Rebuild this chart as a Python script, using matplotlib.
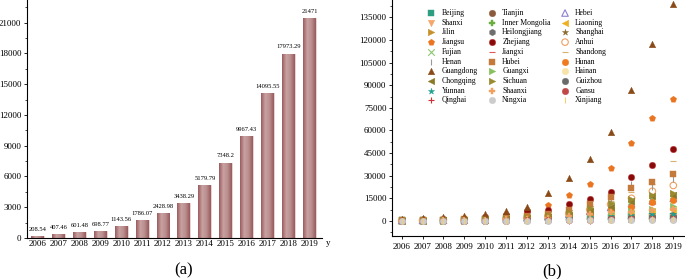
import matplotlib
matplotlib.use("Agg")
import matplotlib.pyplot as plt
import numpy as np
from matplotlib.ticker import MultipleLocator
from matplotlib.colors import LinearSegmentedColormap

plt.rcParams['font.family'] = ['Liberation Serif', 'DejaVu Serif']

years = [2006, 2007, 2008, 2009, 2010, 2011, 2012, 2013, 2014, 2015, 2016, 2017, 2018, 2019]
total_values = [208.54, 407.46, 601.48, 698.77, 1143.56, 1786.07, 2428.98, 3438.29,
                5179.79, 7348.2, 9967.43, 14095.55, 17973.29, 21471]
total_labels = ["208.54", "407.46", "601.48", "698.77", "1143.56", "1786.07", "2428.98",
                "3438.29", "5179.79", "7348.2", "9967.43", "14095.55", "17973.29", "21471"]

provinces = ["Beijing", "Tianjin", "Hebei", "Shanxi", "Inner Mongolia", "Liaoning", "Jilin",
             "Heilongjiang", "Shanghai", "Jiangsu", "Zhejiang", "Anhui", "Fujian", "Jiangxi",
             "Shandong", "Henan", "Hubei", "Hunan", "Guangdong", "Guangxi", "Hainan",
             "Chongqing", "Sichuan", "Guizhou", "Yunnan", "Shaanxi", "Gansu", "Qinghai",
             "Ningxia", "Xinjiang"]

beijing = [400, 550, 700, 900, 1100, 1400, 1700, 2000, 2300, 2500, 2800, 3000, 3100, 3200]
tianjin = [200, 300, 400, 550, 750, 1000, 1400, 1800, 2300, 2800, 3200, 3500, 3800, 4000]
hebei = [200, 300, 450, 600, 900, 1300, 2000, 3000, 4500, 6500, 9000, 11500, 13500, 15000]
shanxi = [100, 150, 220, 300, 400, 550, 750, 1000, 1300, 1600, 1900, 2200, 2500, 2800]
inner_mongolia = [60, 90, 130, 180, 250, 350, 480, 650, 850, 1050, 1250, 1400, 1500, 1600]
liaoning = [300, 450, 600, 800, 1100, 1500, 2000, 2600, 3200, 3800, 4500, 5500, 6500, 7500]
jilin = [80, 120, 180, 250, 330, 450, 600, 800, 1000, 1200, 1400, 1600, 1800, 2000]
heilongjiang = [100, 150, 200, 300, 400, 550, 750, 1000, 1300, 1600, 1900, 2100, 2300, 2500]
shanghai = [400, 600, 800, 1100, 1500, 2100, 3000, 4000, 5500, 7500, 10000, 12500, 14500, 16000]
jiangsu = [700, 1000, 1400, 1900, 2800, 4000, 6000, 10400, 17100, 24800, 34800, 51400, 68000, 81000]
zhejiang = [500, 800, 1200, 1600, 2400, 4000, 6500, 7000, 11000, 14300, 19200, 28800, 37300, 47400]
anhui = [200, 300, 500, 700, 1000, 1500, 2200, 3300, 5000, 7500, 11000, 15000, 19700, 23500]
fujian = [300, 450, 650, 850, 1200, 1800, 2700, 3800, 5500, 8000, 10500, 13000, 15500, 17000]
jiangxi = [100, 150, 250, 350, 500, 800, 1200, 1800, 2800, 4200, 6500, 9000, 11500, 14000]
shandong = [400, 600, 900, 1200, 1700, 2500, 3500, 5000, 7000, 9500, 13500, 19000, 24500, 39600]
henan = [250, 400, 600, 800, 1100, 1600, 2400, 3500, 5500, 8500, 13000, 24800, 22500, 27500]
hubei = [300, 500, 700, 1000, 1400, 2000, 3000, 4500, 7000, 11000, 16000, 21700, 25800, 31300]
hunan = [200, 300, 450, 600, 900, 1300, 1900, 2900, 4200, 6000, 8200, 9300, 12500, 13700]
guangdong = [1300, 1900, 2600, 3200, 4500, 6300, 9000, 18200, 28500, 41000, 59000, 86700, 117300, 143800]
guangxi = [100, 150, 200, 300, 450, 650, 1000, 1500, 2300, 3500, 5000, 6500, 7600, 9800]
hainan = [20, 30, 50, 80, 120, 180, 260, 360, 500, 650, 800, 950, 1100, 1300]
chongqing = [150, 250, 400, 550, 800, 1200, 1800, 2700, 4200, 6500, 9500, 13500, 16500, 17500]
sichuan = [300, 450, 650, 900, 1300, 1900, 2800, 4000, 6000, 8800, 12000, 14500, 17500, 18500]
guizhou = [40, 60, 100, 150, 220, 330, 500, 750, 1100, 1500, 1900, 2300, 2600, 2900]
yunnan = [80, 120, 180, 250, 350, 500, 800, 1200, 1800, 2500, 3200, 4000, 4900, 4900]
shaanxi = [150, 250, 350, 500, 700, 1000, 1500, 2200, 3200, 4500, 6000, 6000, 7000, 7800]
gansu = [30, 50, 80, 110, 160, 230, 330, 450, 600, 800, 1000, 1200, 1400, 1600]
qinghai = [10, 20, 30, 45, 65, 90, 120, 160, 210, 260, 310, 360, 410, 460]
ningxia = [15, 25, 40, 60, 90, 130, 180, 240, 310, 380, 450, 520, 580, 650]
xinjiang = [40, 60, 90, 130, 180, 250, 350, 480, 630, 780, 900, 1000, 1100, 1200]

series = [beijing, tianjin, hebei, shanxi, inner_mongolia, liaoning, jilin, heilongjiang,
          shanghai, jiangsu, zhejiang, anhui, fujian, jiangxi, shandong, henan, hubei, hunan,
          guangdong, guangxi, hainan, chongqing, sichuan, guizhou, yunnan, shaanxi, gansu,
          qinghai, ningxia, xinjiang]

# (marker, facecolor, edgecolor)
styles = [
    ('s', '#2e9e80', '#2e9e80'),   # Beijing
    ('o', '#8a5a3a', '#8a5a3a'),   # Tianjin
    ('^', 'none', '#8c80d0'),      # Hebei
    ('v', '#f5a66a', '#f5a66a'),   # Shanxi
    ('P', '#6aae3f', '#6aae3f'),   # Inner Mongolia
    ('<', '#f0b020', '#f0b020'),   # Liaoning
    ('>', '#c8902c', '#c8902c'),   # Jilin
    ('h', '#6e6e6e', '#6e6e6e'),   # Heilongjiang
    ('*', '#8a6a30', '#8a6a30'),   # Shanghai
    ('p', '#ea7420', '#ea7420'),   # Jiangsu
    ('o', '#8a0a0a', '#c04040'),   # Zhejiang
    ('o', 'none', '#f0a060'),      # Anhui
    ('x', '#8cc870', '#8cc870'),   # Fujian
    ('_', '#e05858', '#e05858'),   # Jiangxi
    ('_', '#d8b070', '#d8b070'),   # Shandong
    ('|', '#999999', '#999999'),   # Henan
    ('s', '#c47a3a', '#c47a3a'),   # Hubei
    ('o', '#f07a20', '#f07a20'),   # Hunan
    ('^', '#8a4a18', '#8a4a18'),   # Guangdong
    ('>', '#86c060', '#86c060'),   # Guangxi
    ('o', '#f8e4a8', '#f8e4a8'),   # Hainan
    ('<', '#8a7a28', '#8a7a28'),   # Chongqing
    ('>', '#9a8a30', '#9a8a30'),   # Sichuan
    ('o', '#6a6a6a', '#6a6a6a'),   # Guizhou
    ('*', '#20a090', '#20a090'),   # Yunnan
    ('P', '#f0a060', '#f0a060'),   # Shaanxi
    ('o', '#c04848', '#c04848'),   # Gansu
    ('+', '#d03030', '#d03030'),   # Qinghai
    ('o', '#cccccc', '#cccccc'),   # Ningxia
    ('|', '#f0d070', '#f0d070'),   # Xinjiang
]

fig = plt.figure(figsize=(6.85, 2.79), dpi=100)

# ---------------- (a) bar chart ----------------
axa = fig.add_axes([27 / 685, 1 - 238 / 279, (322 - 27) / 685, 238 / 279])
bars = axa.bar(years, total_values, width=0.62, color='#b48282',
               edgecolor='#ecd6d6', linewidth=0.6, zorder=2)
cmap = LinearSegmentedColormap.from_list('bargrad', ['#9a5c5e', '#c9a2a2', '#b98e8e', '#985a5c'])
grad = np.linspace(0, 1, 64).reshape(1, -1)
for b in bars:
    x0, w, h = b.get_x(), b.get_width(), b.get_height()
    im = axa.imshow(grad, cmap=cmap, aspect='auto', extent=(x0, x0 + w, 0, h), zorder=2.5)
    im.set_clip_path(b)
for yr, v, lab in zip(years, total_values, total_labels):
    axa.annotate(lab, (yr, v), xytext=(0, 3), textcoords='offset points',
                 ha='center', va='bottom', fontsize=4.7)
axa.set_xlim(2005.5, 2019.6)
axa.set_ylim(0, 23200)
axa.set_xticks(years)
axa.set_yticks(np.arange(0, 21001, 3000))
axa.yaxis.set_minor_locator(MultipleLocator(1500))
axa.spines['top'].set_visible(False)
axa.spines['right'].set_visible(False)
axa.tick_params(axis='both', labelsize=6.5, direction='out', length=2.5, width=0.6, pad=1.5)
axa.tick_params(axis='y', which='minor', length=1.5, width=0.5)
axa.tick_params(axis='x', length=0)
for s in axa.spines.values():
    s.set_linewidth(0.8)
fig.text(328 / 685, 1 - 243 / 279, 'y', fontsize=6.5, ha='center', va='center')
fig.text(184 / 685, 1 - 270 / 279, '(a)', fontsize=12, ha='center', va='center')

# ---------------- (b) scatter chart ----------------
axb = fig.add_axes([392 / 685, 1 - 236 / 279, (685 - 392) / 685, 236 / 279])
handles = []
for name, vals, (m, fc, ec) in zip(provinces, series, styles):
    lw = 0.8 if m in ('x', '+', '_', '|') or fc == 'none' else 0.3
    if m in ('x', '+', '_', '|'):
        h = axb.scatter(years, vals, marker=m, s=22, c=ec, linewidths=lw, label=name, zorder=3)
    else:
        h = axb.scatter(years, vals, marker=m, s=22, facecolors=fc, edgecolors=ec,
                        linewidths=lw, label=name, zorder=3)
    handles.append(h)
axb.set_xlim(2005.54, 2019.56)
axb.set_ylim(-10000, 146500)
axb.set_xticks(years)
axb.set_yticks(np.arange(0, 135001, 15000))
axb.yaxis.set_minor_locator(MultipleLocator(7500))
axb.spines['top'].set_visible(False)
axb.spines['right'].set_visible(False)
axb.tick_params(axis='both', labelsize=6.5, direction='out', length=2.5, width=0.6, pad=1.5)
axb.tick_params(axis='y', which='minor', length=1.5, width=0.5)
axb.tick_params(axis='x', length=2, pad=3)
for s in axb.spines.values():
    s.set_linewidth(0.8)

# legend: row-major order in three columns
order = []
for c in range(3):
    order.extend(range(c, len(handles), 3))
leg = axb.legend([handles[i] for i in order], [provinces[i] for i in order],
                 ncol=3, frameon=False, fontsize=5.6, loc='upper left',
                 bbox_to_anchor=(0.1, 0.988), labelspacing=0.22, handlelength=1.0,
                 handletextpad=0.8, columnspacing=1.35, borderpad=0.3, scatterpoints=1)
fig.text(552 / 685, 1 - 271 / 279, '(b)', fontsize=12, ha='center', va='center')

fig.savefig('out.png', dpi=100)
